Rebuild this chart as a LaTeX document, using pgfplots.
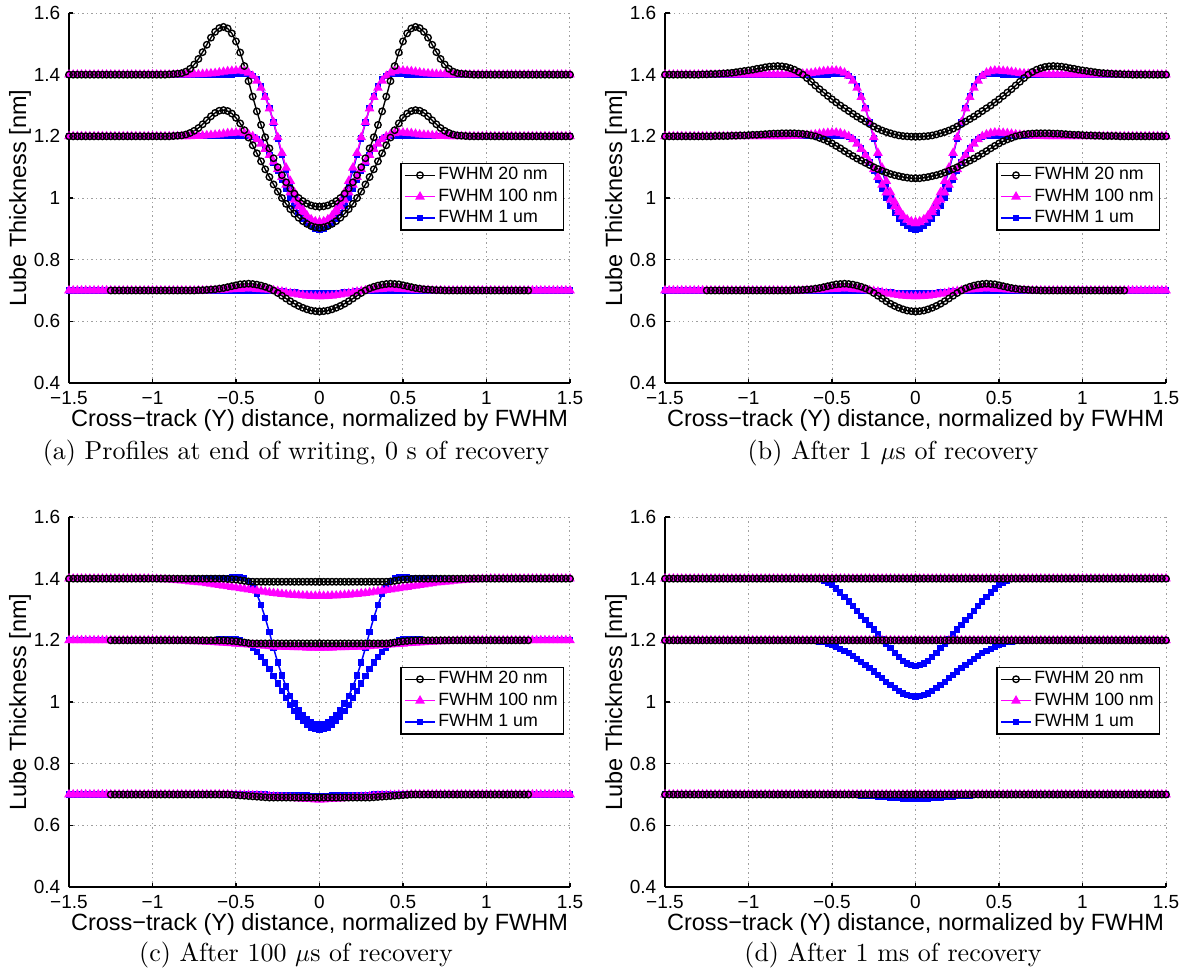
\documentclass[border=0pt]{standalone}
\usepackage{fontspec}
\newfontfamily\hv{Liberation Sans}
\usepackage{pgfplots}
\pgfplotsset{compat=1.18}
\usepackage{pgfplotstable}
\definecolor{mag}{rgb}{1,0,1}
\definecolor{blu}{rgb}{0,0,1}

% half profiles (x >= 0); curves are symmetric and are drawn for -x as well
% (a) end of writing
\pgfplotstableread{
x k1 k2 k3 m1 m2 m3 b1 b2 b3
0     0.972 0.903 0.632 0.918 0.922 0.681 0.898 0.900 0.690
0.025 0.973 0.905 0.633 0.921 0.924 0.681 0.901 0.902 0.690
0.05  0.976 0.909 0.635 0.929 0.930 0.682 0.910 0.908 0.691
0.075 0.982 0.916 0.639 0.943 0.940 0.683 0.925 0.918 0.691
0.1   0.990 0.925 0.644 0.963 0.954 0.685 0.946 0.933 0.692
0.125 1.000 0.936 0.650 0.988 0.972 0.687 0.973 0.952 0.693
0.15  1.014 0.949 0.657 1.018 0.994 0.689 1.006 0.975 0.694
0.175 1.031 0.964 0.665 1.055 1.018 0.691 1.045 1.001 0.695
0.2   1.051 0.981 0.674 1.098 1.043 0.694 1.090 1.029 0.696
0.225 1.074 1.000 0.683 1.146 1.068 0.696 1.140 1.058 0.697
0.25  1.100 1.021 0.692 1.197 1.093 0.698 1.193 1.087 0.698
0.275 1.129 1.044 0.700 1.246 1.117 0.700 1.245 1.115 0.699
0.3   1.161 1.068 0.707 1.290 1.139 0.702 1.292 1.140 0.699
0.325 1.197 1.093 0.712 1.327 1.159 0.703 1.332 1.162 0.700
0.35  1.237 1.119 0.716 1.357 1.176 0.704 1.363 1.180 0.700
0.375 1.281 1.145 0.719 1.380 1.190 0.705 1.384 1.192 0.700
0.4   1.329 1.171 0.721 1.396 1.200 0.706 1.396 1.198 0.700
0.425 1.379 1.196 0.722 1.406 1.206 0.706 1.401 1.201 0.700
0.45  1.428 1.220 0.721 1.411 1.210 0.706 1.402 1.201 0.700
0.475 1.472 1.242 0.720 1.413 1.212 0.705 1.402 1.200 0.700
0.5   1.508 1.260 0.717 1.413 1.212 0.705 1.401 1.200 0.700
0.525 1.534 1.274 0.714 1.412 1.211 0.704 1.400 1.200 0.700
0.55  1.550 1.282 0.711 1.411 1.210 0.703 1.400 1.200 0.700
0.575 1.555 1.285 0.708 1.409 1.208 0.702 1.400 1.200 0.700
0.6   1.551 1.283 0.706 1.407 1.206 0.702 1.400 1.200 0.700
0.625 1.539 1.276 0.704 1.405 1.205 0.701 1.400 1.200 0.700
0.65  1.520 1.265 0.703 1.404 1.204 0.701 1.400 1.200 0.700
0.675 1.497 1.252 0.702 1.403 1.203 0.700 1.400 1.200 0.700
0.7   1.473 1.239 0.701 1.402 1.202 0.700 1.400 1.200 0.700
0.725 1.451 1.227 0.701 1.401 1.201 0.700 1.400 1.200 0.700
0.75  1.433 1.218 0.700 1.401 1.201 0.700 1.400 1.200 0.700
0.775 1.419 1.211 0.700 1.400 1.200 0.700 1.400 1.200 0.700
0.8   1.410 1.206 0.700 1.400 1.200 0.700 1.400 1.200 0.700
0.825 1.405 1.203 0.700 1.400 1.200 0.700 1.400 1.200 0.700
0.85  1.403 1.202 0.700 1.400 1.200 0.700 1.400 1.200 0.700
0.875 1.402 1.201 0.700 1.400 1.200 0.700 1.400 1.200 0.700
0.9   1.401 1.200 0.700 1.400 1.200 0.700 1.400 1.200 0.700
0.925 1.400 1.200 0.700 1.400 1.200 0.700 1.400 1.200 0.700
0.95  1.400 1.200 0.700 1.400 1.200 0.700 1.400 1.200 0.700
0.975 1.400 1.200 0.700 1.400 1.200 0.700 1.400 1.200 0.700
1     1.400 1.200 0.700 1.400 1.200 0.700 1.400 1.200 0.700
1.025 1.400 1.200 0.700 1.400 1.200 0.700 1.400 1.200 0.700
1.05  1.400 1.200 0.700 1.400 1.200 0.700 1.400 1.200 0.700
1.075 1.400 1.200 0.700 1.400 1.200 0.700 1.400 1.200 0.700
1.1   1.400 1.200 0.700 1.400 1.200 0.700 1.400 1.200 0.700
1.125 1.400 1.200 0.700 1.400 1.200 0.700 1.400 1.200 0.700
1.15  1.400 1.200 0.700 1.400 1.200 0.700 1.400 1.200 0.700
1.175 1.400 1.200 0.700 1.400 1.200 0.700 1.400 1.200 0.700
1.2   1.400 1.200 0.700 1.400 1.200 0.700 1.400 1.200 0.700
1.225 1.400 1.200 0.700 1.400 1.200 0.700 1.400 1.200 0.700
1.25  1.400 1.200 0.700 1.400 1.200 0.700 1.400 1.200 0.700
1.275 1.400 1.200 nan   1.400 1.200 0.700 1.400 1.200 0.700
1.3   1.400 1.200 nan   1.400 1.200 0.700 1.400 1.200 0.700
1.325 1.400 1.200 nan   1.400 1.200 0.700 1.400 1.200 0.700
1.35  1.400 1.200 nan   1.400 1.200 0.700 1.400 1.200 0.700
1.375 1.400 1.200 nan   1.400 1.200 0.700 1.400 1.200 0.700
1.4   1.400 1.200 nan   1.400 1.200 0.700 1.400 1.200 0.700
1.425 1.400 1.200 nan   1.400 1.200 0.700 1.400 1.200 0.700
1.45  1.400 1.200 nan   1.400 1.200 0.700 1.400 1.200 0.700
1.475 1.400 1.200 nan   1.400 1.200 0.700 1.400 1.200 0.700
1.5   1.400 1.200 nan   1.400 1.200 0.700 1.400 1.200 0.700
}\tA

% (b) after 1 us: 20 nm profiles (others as in (a))
\pgfplotstableread{
x k1 k2
0     1.199 1.064
0.025 1.199 1.064
0.05  1.200 1.066
0.075 1.201 1.068
0.1   1.203 1.071
0.125 1.206 1.074
0.15  1.210 1.078
0.175 1.214 1.083
0.2   1.219 1.088
0.225 1.225 1.094
0.25  1.232 1.100
0.275 1.240 1.107
0.3   1.248 1.114
0.325 1.256 1.121
0.35  1.264 1.128
0.375 1.273 1.136
0.4   1.282 1.144
0.425 1.291 1.152
0.45  1.300 1.161
0.475 1.310 1.169
0.5   1.320 1.177
0.525 1.331 1.184
0.55  1.342 1.190
0.575 1.353 1.195
0.6   1.365 1.200
0.625 1.377 1.203
0.65  1.389 1.206
0.675 1.400 1.208
0.7   1.409 1.209
0.725 1.416 1.210
0.75  1.421 1.210
0.775 1.425 1.210
0.8   1.427 1.210
0.825 1.428 1.209
0.85  1.427 1.209
0.875 1.426 1.208
0.9   1.424 1.207
0.925 1.421 1.206
0.95  1.419 1.205
0.975 1.416 1.205
1     1.414 1.204
1.025 1.412 1.203
1.05  1.410 1.203
1.075 1.408 1.202
1.1   1.406 1.202
1.125 1.405 1.201
1.15  1.404 1.201
1.175 1.403 1.201
1.2   1.402 1.201
1.225 1.402 1.200
1.25  1.401 1.200
1.275 1.401 1.200
1.3   1.400 1.200
1.325 1.400 1.200
1.35  1.400 1.200
1.375 1.400 1.200
1.4   1.400 1.200
1.425 1.400 1.200
1.45  1.400 1.200
1.475 1.400 1.200
1.5   1.400 1.200
}\tB

% (c) after 100 us
\pgfplotstableread{
x k1 k2 k3 m1 m2 m3 b1 b2 b3
0     1.390 1.190 0.690 1.344 1.176 0.684 0.927 0.910 0.696
0.025 1.390 1.190 0.690 1.344 1.176 0.684 0.929 0.912 0.696
0.05  1.390 1.190 0.690 1.344 1.176 0.685 0.935 0.917 0.696
0.075 1.390 1.190 0.690 1.345 1.176 0.685 0.944 0.926 0.697
0.1   1.390 1.190 0.690 1.345 1.177 0.686 0.957 0.938 0.697
0.125 1.390 1.190 0.690 1.346 1.177 0.687 0.974 0.953 0.697
0.15  1.390 1.190 0.690 1.347 1.177 0.688 0.995 0.971 0.697
0.175 1.390 1.190 0.690 1.348 1.178 0.689 1.020 0.991 0.698
0.2   1.390 1.190 0.690 1.349 1.178 0.690 1.050 1.013 0.698
0.225 1.390 1.190 0.690 1.350 1.179 0.691 1.086 1.036 0.698
0.25  1.390 1.190 0.690 1.352 1.179 0.692 1.128 1.060 0.699
0.275 1.390 1.190 0.690 1.353 1.180 0.693 1.175 1.084 0.699
0.3   1.390 1.190 0.690 1.355 1.181 0.694 1.226 1.107 0.699
0.325 1.390 1.190 0.691 1.357 1.182 0.695 1.273 1.128 0.700
0.35  1.390 1.190 0.692 1.359 1.183 0.696 1.315 1.147 0.700
0.375 1.390 1.190 0.693 1.361 1.184 0.697 1.350 1.163 0.700
0.4   1.390 1.190 0.694 1.363 1.185 0.697 1.376 1.176 0.700
0.425 1.391 1.191 0.695 1.365 1.186 0.698 1.393 1.187 0.700
0.45  1.393 1.193 0.696 1.367 1.187 0.698 1.401 1.195 0.700
0.475 1.395 1.195 0.697 1.369 1.188 0.699 1.404 1.200 0.700
0.5   1.397 1.197 0.698 1.371 1.189 0.699 1.404 1.203 0.700
0.525 1.398 1.198 0.699 1.373 1.190 0.699 1.404 1.204 0.700
0.55  1.399 1.199 0.700 1.375 1.191 0.700 1.403 1.204 0.700
0.575 1.400 1.200 0.700 1.377 1.192 0.700 1.403 1.203 0.700
0.6   1.400 1.200 0.700 1.379 1.193 0.700 1.402 1.203 0.700
0.625 1.400 1.200 0.700 1.381 1.194 0.700 1.402 1.202 0.700
0.65  1.400 1.200 0.700 1.383 1.195 0.700 1.401 1.202 0.700
0.675 1.400 1.200 0.700 1.385 1.195 0.700 1.401 1.201 0.700
0.7   1.400 1.200 0.700 1.387 1.196 0.700 1.400 1.201 0.700
0.725 1.400 1.200 0.700 1.388 1.197 0.700 1.400 1.200 0.700
0.75  1.400 1.200 0.700 1.390 1.197 0.700 1.400 1.200 0.700
0.775 1.400 1.200 0.700 1.391 1.198 0.700 1.400 1.200 0.700
0.8   1.400 1.200 0.700 1.393 1.198 0.700 1.400 1.200 0.700
0.825 1.400 1.200 0.700 1.394 1.199 0.700 1.400 1.200 0.700
0.85  1.400 1.200 0.700 1.395 1.199 0.700 1.400 1.200 0.700
0.875 1.400 1.200 0.700 1.396 1.199 0.700 1.400 1.200 0.700
0.9   1.400 1.200 0.700 1.397 1.200 0.700 1.400 1.200 0.700
0.925 1.400 1.200 0.700 1.398 1.200 0.700 1.400 1.200 0.700
0.95  1.400 1.200 0.700 1.398 1.200 0.700 1.400 1.200 0.700
0.975 1.400 1.200 0.700 1.399 1.200 0.700 1.400 1.200 0.700
1     1.400 1.200 0.700 1.399 1.200 0.700 1.400 1.200 0.700
1.025 1.400 1.200 0.700 1.400 1.200 0.700 1.400 1.200 0.700
1.05  1.400 1.200 0.700 1.400 1.200 0.700 1.400 1.200 0.700
1.075 1.400 1.200 0.700 1.400 1.200 0.700 1.400 1.200 0.700
1.1   1.400 1.200 0.700 1.400 1.200 0.700 1.400 1.200 0.700
1.125 1.400 1.200 0.700 1.400 1.200 0.700 1.400 1.200 0.700
1.15  1.400 1.200 0.700 1.400 1.200 0.700 1.400 1.200 0.700
1.175 1.400 1.200 0.700 1.400 1.200 0.700 1.400 1.200 0.700
1.2   1.400 1.200 0.700 1.400 1.200 0.700 1.400 1.200 0.700
1.225 1.400 1.200 0.700 1.400 1.200 0.700 1.400 1.200 0.700
1.25  1.400 1.200 0.700 1.400 1.200 0.700 1.400 1.200 0.700
1.275 1.400 nan   nan   1.400 1.200 0.700 1.400 1.200 0.700
1.3   1.400 nan   nan   1.400 1.200 0.700 1.400 1.200 0.700
1.325 1.400 nan   nan   1.400 1.200 0.700 1.400 1.200 0.700
1.35  1.400 nan   nan   1.400 1.200 0.700 1.400 1.200 0.700
1.375 1.400 nan   nan   1.400 1.200 0.700 1.400 1.200 0.700
1.4   1.400 nan   nan   1.400 1.200 0.700 1.400 1.200 0.700
1.425 1.400 nan   nan   1.400 1.200 0.700 1.400 1.200 0.700
1.45  1.400 nan   nan   1.400 1.200 0.700 1.400 1.200 0.700
1.475 1.400 nan   nan   1.400 1.200 0.700 1.400 1.200 0.700
1.5   1.400 nan   nan   1.400 1.200 0.700 1.400 1.200 0.700
}\tC

% (d) after 1 ms: c = 20 nm and 100 nm (flat), b = 1 um
\pgfplotstableread{
x c1 c2 c3 b1 b2 b3
0     1.4 1.2 0.7 1.118 1.018 0.685
0.025 1.4 1.2 0.7 1.120 1.019 0.685
0.05  1.4 1.2 0.7 1.125 1.022 0.686
0.075 1.4 1.2 0.7 1.133 1.028 0.687
0.1   1.4 1.2 0.7 1.145 1.036 0.688
0.125 1.4 1.2 0.7 1.160 1.045 0.689
0.15  1.4 1.2 0.7 1.175 1.055 0.690
0.175 1.4 1.2 0.7 1.190 1.066 0.691
0.2   1.4 1.2 0.7 1.205 1.077 0.692
0.225 1.4 1.2 0.7 1.220 1.088 0.693
0.25  1.4 1.2 0.7 1.235 1.099 0.694
0.275 1.4 1.2 0.7 1.250 1.110 0.695
0.3   1.4 1.2 0.7 1.265 1.120 0.696
0.325 1.4 1.2 0.7 1.280 1.130 0.697
0.35  1.4 1.2 0.7 1.296 1.140 0.698
0.375 1.4 1.2 0.7 1.311 1.149 0.698
0.4   1.4 1.2 0.7 1.326 1.158 0.699
0.425 1.4 1.2 0.7 1.341 1.166 0.699
0.45  1.4 1.2 0.7 1.355 1.173 0.700
0.475 1.4 1.2 0.7 1.368 1.180 0.700
0.5   1.4 1.2 0.7 1.379 1.186 0.700
0.525 1.4 1.2 0.7 1.388 1.190 0.700
0.55  1.4 1.2 0.7 1.394 1.194 0.700
0.575 1.4 1.2 0.7 1.398 1.196 0.700
0.6   1.4 1.2 0.7 1.400 1.198 0.700
0.625 1.4 1.2 0.7 1.400 1.199 0.700
0.65  1.4 1.2 0.7 1.400 1.199 0.700
0.675 1.4 1.2 0.7 1.400 1.200 0.700
0.7   1.4 1.2 0.7 1.400 1.200 0.700
0.725 1.4 1.2 0.7 1.400 1.200 0.700
0.75  1.4 1.2 0.7 1.400 1.200 0.700
0.775 1.4 1.2 0.7 1.400 1.200 0.700
0.8   1.4 1.2 0.7 1.400 1.200 0.700
0.825 1.4 1.2 0.7 1.400 1.200 0.700
0.85  1.4 1.2 0.7 1.400 1.200 0.700
0.875 1.4 1.2 0.7 1.400 1.200 0.700
0.9   1.4 1.2 0.7 1.400 1.200 0.700
0.925 1.4 1.2 0.7 1.400 1.200 0.700
0.95  1.4 1.2 0.7 1.400 1.200 0.700
0.975 1.4 1.2 0.7 1.400 1.200 0.700
1     1.4 1.2 0.7 1.400 1.200 0.700
1.025 1.4 1.2 0.7 1.400 1.200 0.700
1.05  1.4 1.2 0.7 1.400 1.200 0.700
1.075 1.4 1.2 0.7 1.400 1.200 0.700
1.1   1.4 1.2 0.7 1.400 1.200 0.700
1.125 1.4 1.2 0.7 1.400 1.200 0.700
1.15  1.4 1.2 0.7 1.400 1.200 0.700
1.175 1.4 1.2 0.7 1.400 1.200 0.700
1.2   1.4 1.2 0.7 1.400 1.200 0.700
1.225 1.4 1.2 0.7 1.400 1.200 0.700
1.25  1.4 1.2 0.7 1.400 1.200 0.700
1.275 1.4 1.2 0.7 1.400 1.200 0.700
1.3   1.4 1.2 0.7 1.400 1.200 0.700
1.325 1.4 1.2 0.7 1.400 1.200 0.700
1.35  1.4 1.2 0.7 1.400 1.200 0.700
1.375 1.4 1.2 0.7 1.400 1.200 0.700
1.4   1.4 1.2 0.7 1.400 1.200 0.700
1.425 1.4 1.2 0.7 1.400 1.200 0.700
1.45  1.4 1.2 0.7 1.400 1.200 0.700
1.475 1.4 1.2 0.7 1.400 1.200 0.700
1.5   1.4 1.2 0.7 1.400 1.200 0.700
}\tD

\pgfplotsset{
  kst/.style={black, line width=0.55pt, mark=o, mark size=1.3pt, mark options={solid, line width=0.55pt}},
  mst/.style={mag, line width=0.6pt, mark=triangle*, mark size=1.65pt, mark options={solid}},
  bst/.style={blu, line width=0.6pt, mark=square*, mark size=0.95pt, mark options={solid}},
  lube/.style={
    scale only axis, width=200.4pt, height=148pt,
    xmin=-1.5, xmax=1.5, ymin=0.4, ymax=1.6,
    xtick={-1.5,-1,-0.5,0,0.5,1,1.5},
    xticklabels={−1.5,−1,−0.5,0,0.5,1,1.5},
    ytick={0.4,0.6,0.8,1,1.2,1.4,1.6},
    yticklabels={0.4,0.6,0.8,1,1.2,1.4,1.6},
    axis x line*=bottom, axis y line*=left,
    axis line style={line width=0.6pt},
    tick align=inside, major tick length=1.8pt,
    tick style={black, line width=0.6pt},
    grid=major,
    grid style={gray!75, line width=0.4pt, dash pattern=on 0.45pt off 1.35pt},
    clip=false,
    xticklabel style={font=\hv\fontsize{7.6}{9}\selectfont, anchor=base, yshift=-8.6pt},
    yticklabel style={font=\hv\fontsize{7.6}{9}\selectfont},
    xlabel={Cross−track (Y) distance, normalized by FWHM},
    ylabel={Lube Thickness [nm]},
    xlabel style={font=\hv\fontsize{9.4}{11}\selectfont, at={(axis description cs:0.5,0)}, anchor=base, yshift=-17.4pt},
    ylabel style={font=\hv\fontsize{9.4}{11}\selectfont, at={(axis description cs:-0.0858,0.5)}, anchor=base},
    legend cell align=left,
    legend image code/.code={\draw[mark repeat=2, mark phase=2] plot coordinates {(0pt,0pt) (6pt,0pt) (12pt,0pt)};},
    legend style={at={(rel axis cs:0.988,0.595)}, anchor=north east, draw=black, line width=0.5pt, fill=white,
      font=\hv\fontsize{7.1}{8.5}\selectfont, inner xsep=1.3pt, inner ysep=0.4pt, row sep=0pt,
      nodes={inner xsep=1pt, inner ysep=0.8pt, text height=5.4pt, text depth=1.6pt}},
  }
}

\newcommand{\mir}[3]{%
  \addplot[#3, forget plot] table[x=x, y=#2] {#1};
  \addplot[#3, forget plot] table[x expr=-\thisrow{x}, y=#2] {#1};
}
\newcommand{\legs}{%
  \addlegendimage{kst}\addlegendentry{FWHM 20 nm}
  \addlegendimage{mst}\addlegendentry{FWHM 100 nm}
  \addlegendimage{bst}\addlegendentry{FWHM 1 um}
}

\begin{document}
\begin{tikzpicture}
% (a)
\begin{axis}[lube, at={(0pt,0pt)}, anchor=south west]
\legs
\mir{\tA}{b3}{bst}\mir{\tA}{b2}{bst}\mir{\tA}{b1}{bst}
\mir{\tA}{m3}{mst}\mir{\tA}{m2}{mst}\mir{\tA}{m1}{mst}
\mir{\tA}{k3}{kst}\mir{\tA}{k2}{kst}\mir{\tA}{k1}{kst}
\end{axis}
% (b)
\begin{axis}[lube, at={(238.4pt,0pt)}, anchor=south west]
\legs
\mir{\tA}{b3}{bst}\mir{\tA}{b2}{bst}\mir{\tA}{b1}{bst}
\mir{\tA}{m3}{mst}\mir{\tA}{m2}{mst}\mir{\tA}{m1}{mst}
\mir{\tA}{k3}{kst}\mir{\tB}{k2}{kst}\mir{\tB}{k1}{kst}
\end{axis}
% (c)
\begin{axis}[lube, at={(0pt,-201.6pt)}, anchor=south west]
\legs
\mir{\tC}{b3}{bst}\mir{\tC}{b2}{bst}\mir{\tC}{b1}{bst}
\mir{\tC}{m3}{mst}\mir{\tC}{m2}{mst}\mir{\tC}{m1}{mst}
\mir{\tC}{k3}{kst}\mir{\tC}{k2}{kst}\mir{\tC}{k1}{kst}
\end{axis}
% (d)
\begin{axis}[lube, at={(238.4pt,-201.6pt)}, anchor=south west]
\legs
\mir{\tD}{b3}{bst}\mir{\tD}{b2}{bst}\mir{\tD}{b1}{bst}
\mir{\tD}{c3}{mst}\mir{\tD}{c2}{mst}\mir{\tD}{c1}{mst}
\mir{\tD}{c3}{kst}\mir{\tD}{c2}{kst}\mir{\tD}{c1}{kst}
\end{axis}
\node[anchor=base, font=\fontsize{10.4}{12.5}\selectfont] at (90.8pt,-30.4pt) {(a) Profiles at end of writing, 0 s of recovery};
\node[anchor=base, font=\fontsize{10.4}{12.5}\selectfont] at (329.6pt,-30.4pt) {(b) After 1 $\mu$s of recovery};
\node[anchor=base, font=\fontsize{10.4}{12.5}\selectfont] at (90.8pt,-231.2pt) {(c) After 100 $\mu$s of recovery};
\node[anchor=base, font=\fontsize{10.4}{12.5}\selectfont] at (329.6pt,-231.2pt) {(d) After 1 ms of recovery};
\pgfresetboundingbox
\path[use as bounding box] (-27.6pt,-238.4pt) rectangle (444.8pt,153.2pt);
\end{tikzpicture}
\end{document}
